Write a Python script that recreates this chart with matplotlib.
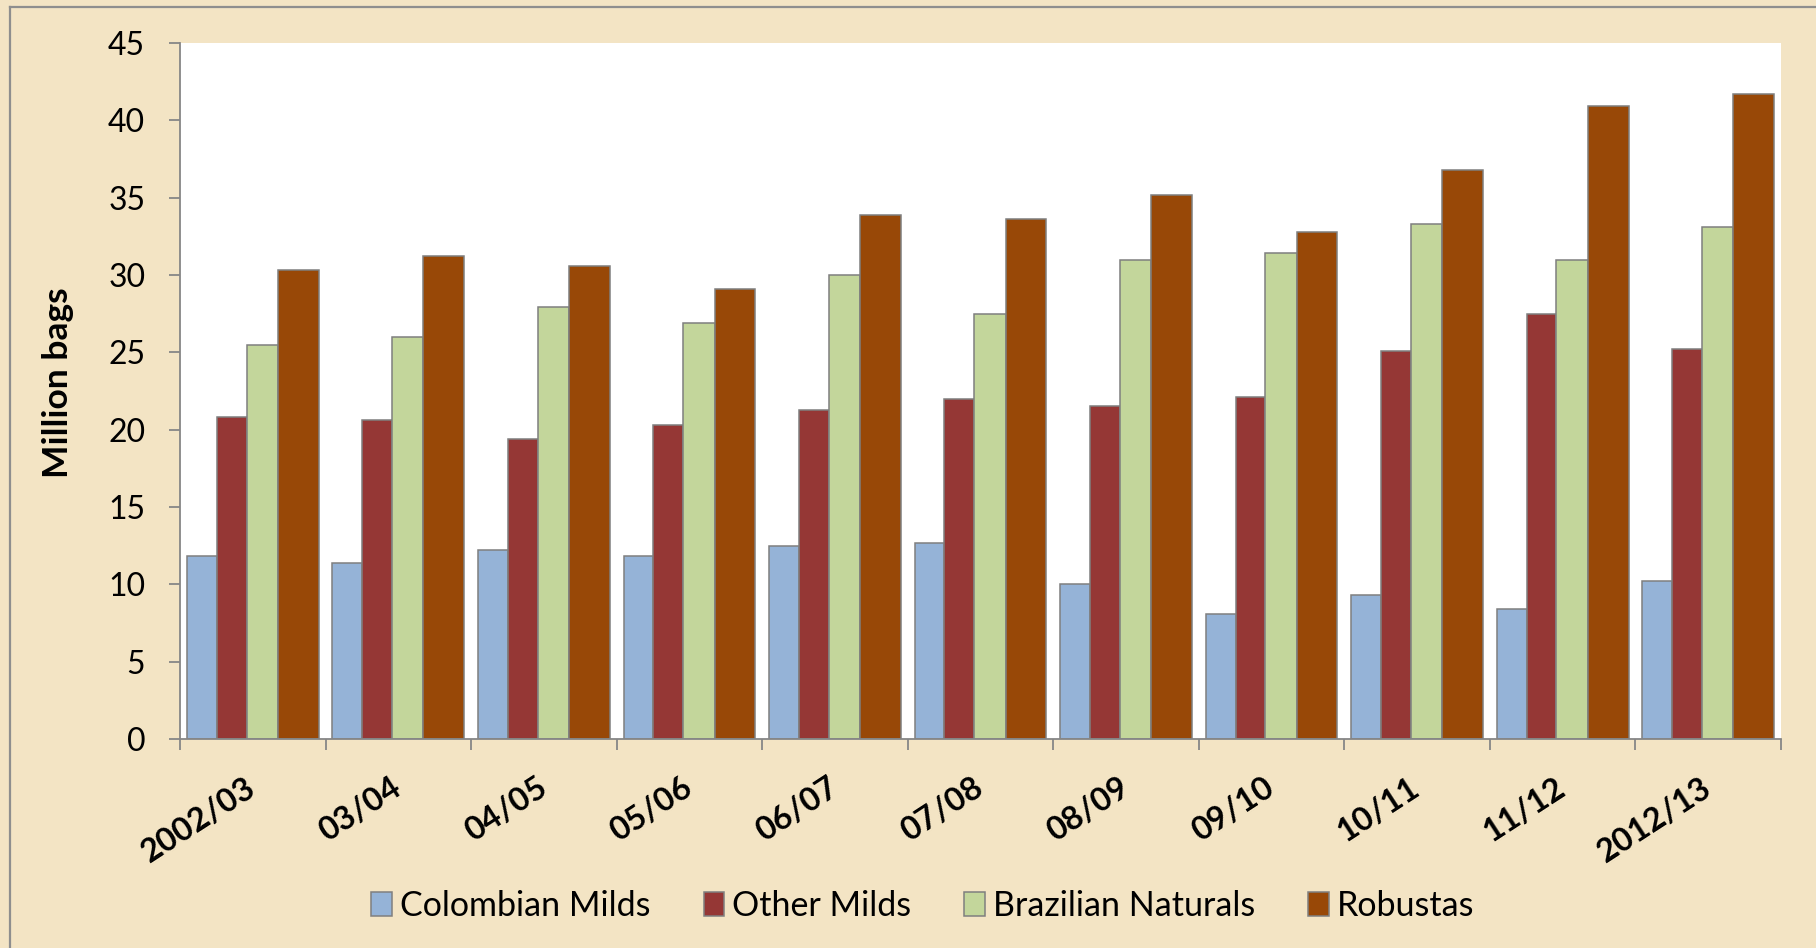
import numpy as np
import matplotlib.pyplot as plt
from matplotlib.lines import Line2D

seasons = ["2002/03", "03/04", "04/05", "05/06", "06/07", "07/08",
           "08/09", "09/10", "10/11", "11/12", "2012/13"]

colombian_milds = [11.8, 11.4, 12.2, 11.8, 12.5, 12.7, 10.0, 8.1, 9.3, 8.4, 10.2]
other_milds = [20.8, 20.6, 19.4, 20.3, 21.3, 22.0, 21.5, 22.1, 25.1, 27.5, 25.2]
brazilian_naturals = [25.5, 26.0, 27.9, 26.9, 30.0, 27.5, 31.0, 31.4, 33.3, 31.0, 33.1]
robustas = [30.3, 31.2, 30.6, 29.1, 33.9, 33.6, 35.2, 32.8, 36.8, 40.9, 41.7]

series_names = ["Colombian Milds", "Other Milds", "Brazilian Naturals", "Robustas"]

plt.rcParams["font.family"] = ["Lato", "DejaVu Sans"]

bg = "#F3E4C4"
grey = "#868686"
colors = ["#95B3D7", "#953735", "#C3D69B", "#984807"]
widths = [0.205, 0.205, 0.215, 0.28]

fig = plt.figure(figsize=(18.16, 9.48), dpi=100)
fig.patch.set_facecolor(bg)

ax = fig.add_axes([180 / 1816, 209 / 948, 1601 / 1816, 696 / 948])
ax.set_facecolor("white")

x = np.arange(len(seasons))
left = -sum(widths) / 2
for name, vals, color, w in zip(series_names,
                                [colombian_milds, other_milds, brazilian_naturals, robustas],
                                colors, widths):
    ax.bar(x + left + w / 2, vals, width=w, color=color, edgecolor="#7F7F7F",
           linewidth=1.1, label=name)
    left += w

ax.set_xlim(-0.5, len(seasons) - 0.5)
ax.set_ylim(0, 45)
ax.set_yticks(np.arange(0, 46, 5))

for s in ["top", "right"]:
    ax.spines[s].set_visible(False)
for s in ["left", "bottom"]:
    ax.spines[s].set_color(grey)
    ax.spines[s].set_linewidth(1.3)

ax.tick_params(axis="y", length=8, width=1.3, color=grey, labelsize=23, pad=17)
ax.set_xticks(x)
ax.set_xticklabels(seasons, rotation=33, ha="right", va="center",
                   rotation_mode="anchor", fontweight="bold", fontsize=23.5)
ax.tick_params(axis="x", which="major", length=0, pad=33)
ax.set_xticks(np.arange(-0.5, len(seasons), 1), minor=True)
ax.tick_params(axis="x", which="minor", length=8, width=1.3, color=grey)

fig.text(58 / 1816, 1 - 383 / 948, "Million bags", rotation=90, ha="center",
         va="center", fontsize=25.5, fontweight="bold")

fig.legend(loc="center", bbox_to_anchor=(923 / 1816, 42 / 948), ncol=4,
           frameon=False, fontsize=24.5, handlelength=0.6, handleheight=0.7,
           handletextpad=0.25, columnspacing=1.55)

# page border
fig.add_artist(Line2D([10 / 1816, 1], [1 - 7 / 948, 1 - 7 / 948], color="#8E8E8E",
                      linewidth=1.6, transform=fig.transFigure))
fig.add_artist(Line2D([10 / 1816, 10 / 1816], [0, 1 - 7 / 948], color="#8E8E8E",
                      linewidth=1.6, transform=fig.transFigure))

fig.savefig("out.png", dpi=100, facecolor=bg)
